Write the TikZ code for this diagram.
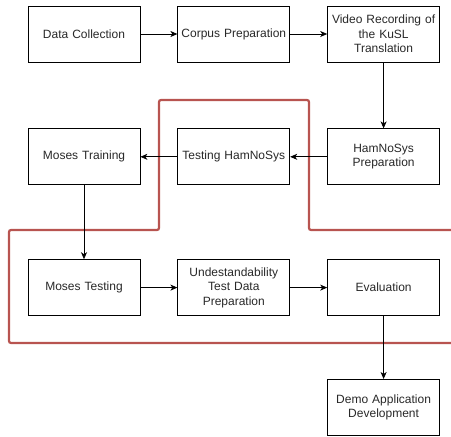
\documentclass[tikz,border=0pt]{standalone}
\usepackage{fontspec}
\setmainfont{Liberation Sans}
\usetikzlibrary{positioning,arrows.meta}

\definecolor{boundred}{RGB}{184,84,80}
\definecolor{textgray}{RGB}{40,40,40}

\begin{document}
\begin{tikzpicture}[
            x=1pt, y=-1pt,
            node distance=37pt,
            box/.style={
                draw,
                line width=0.8pt,
                minimum width=112pt,
                minimum height=56pt,
                inner sep=1pt,
                align=center,
                text width=110pt,
                text=textgray,
                font=\fontsize{12}{14.5}\selectfont
            },
            arrow/.style={-{Stealth[length=7pt,width=6pt,inset=2pt]}, line width=0.8pt}
        ]
        \useasboundingbox (0,0) rectangle (451,437);

        \node[box] (collect) at (84,34) {Data Collection};
        \node[box, right=of collect] (corpus) {Corpus Preparation};
        \node[box, right=of corpus] (video) {Video Recording of\\the KuSL\\Translation};

        \node[box, below=66pt of video] (hamprep) {HamNoSys\\Preparation};
        \node[box, left=of hamprep] (hamtest) {Testing HamNoSys};
        \node[box, left=of hamtest] (mtrain) {Moses Training};

        \node[box, below=74pt of mtrain] (mtest) {Moses Testing};
        \node[box, right=of mtest] (undest) {Undestandability\\Test Data\\Preparation};
        \node[box, right=of undest] (eval) {Evaluation};

        \node[box, below=63pt of eval] (demo) {Demo Application\\Development};

        % boundary line
        \draw[boundred, line width=2.2pt, rounded corners=2pt]
            (451,230) -- (309,230) -- (309,100) -- (159,100) -- (159,230)
            -- (9,230) -- (9,343) -- (451,343);

        \draw[arrow] (collect) -- (corpus);
        \draw[arrow] (corpus) -- (video);
        \draw[arrow] (video) -- (hamprep);
        \draw[arrow] (hamprep) -- (hamtest);
        \draw[arrow] (hamtest) -- (mtrain);
        \draw[arrow] (mtrain) -- (mtest);
        \draw[arrow] (mtest) -- (undest);
        \draw[arrow] (undest) -- (eval);
        \draw[arrow] (eval) -- (demo);
\end{tikzpicture}
\end{document}
